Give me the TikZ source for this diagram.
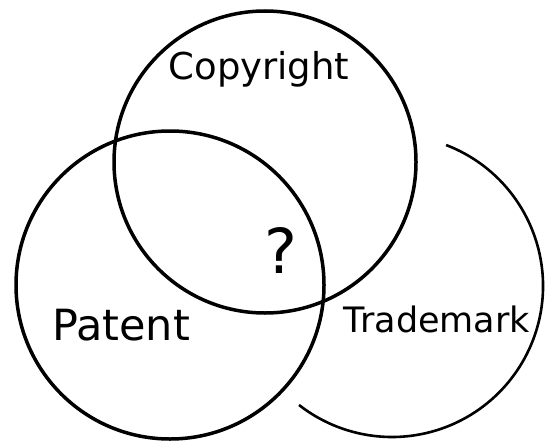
\documentclass[tikz,border=0pt]{standalone}
\usepackage{fontspec}
\newfontfamily\handfont{DejaVu Sans}
\usepackage{tikz}
\usetikzlibrary{positioning}

\begin{document}
\begin{tikzpicture}[x=1pt, y=-1pt,
  ring/.style  = {draw=black, line width=3.5pt},
  faint/.style = {draw=black, line width=2.6pt},
  setlbl/.style = {anchor=base, inner sep=0pt, text=black}
]
  \useasboundingbox (0,0) rectangle (545,441);

  %% the three sets
  \draw[ring] (265,162) circle[radius=151];
  \draw[ring] (170,285) circle[radius=154];
  \draw[faint] (392,286) ++(-69:151) arc[start angle=-69, end angle=128, radius=151];

  %% labels
  \node[setlbl, font=\handfont\fontsize{37}{40}\selectfont]
    (cr) at (259,80) {Copyright};
  \node[setlbl, font=\handfont\fontsize{43}{46}\selectfont]
    (pt) at (121,340) {Patent};
  \node[setlbl, font=\handfont\fontsize{35}{38}\selectfont]
    (tm) at (437,332) {Trademark};
  \node[setlbl, font=\handfont\fontsize{62}{64}\selectfont]
    (qm) at (281,273) {?};
\end{tikzpicture}
\end{document}
